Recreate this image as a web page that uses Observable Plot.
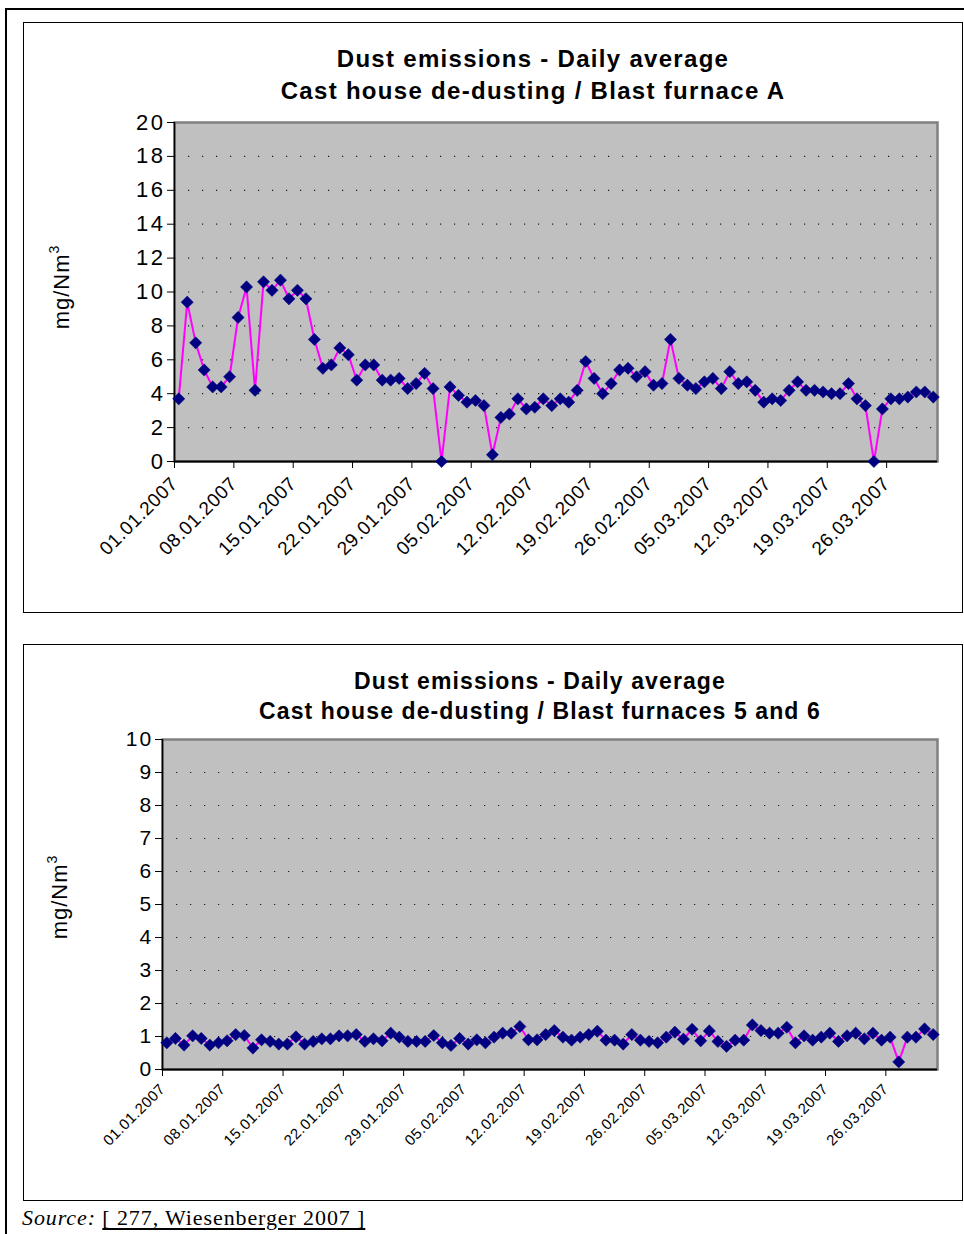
<!DOCTYPE html>
<html>
<head>
<meta charset="utf-8">
<script src="https://cdn.jsdelivr.net/npm/d3@7"></script>
<script src="https://cdn.jsdelivr.net/npm/@observablehq/plot@0.6"></script>
<style>
  html, body { margin: 0; padding: 0; background: #fff; }
  #page { position: relative; width: 964px; height: 1234px; overflow: hidden; font-family: "Liberation Sans", Arial, sans-serif; }
  .outerTop { position: absolute; left: 6px; top: 8px; width: 960px; height: 2px; background: #000; }
  .outerLeft { position: absolute; left: 5px; top: 8px; width: 2px; height: 1240px; background: #000; }
  .frame { position: absolute; border: 1.5px solid #000; box-sizing: border-box; }
  .title { position: absolute; text-align: center; font-weight: bold; color: #000; white-space: nowrap; }
  .ylab { position: absolute; transform: translate(-50%, -50%) rotate(-90deg); font-size: 22px; letter-spacing: 1px; white-space: nowrap; }
  .ylab sup { font-size: 14px; vertical-align: 10px; line-height: 0; }
  .plotwrap { position: absolute; }
  .source { position: absolute; left: 22px; top: 1205px; font-family: "Liberation Serif", "Times New Roman", serif; font-size: 22px; letter-spacing: 0.9px; white-space: nowrap; }
  .source u { text-decoration: underline; text-underline-offset: 3px; }
</style>
</head>
<body>
<div id="page">
  <div class="outerTop"></div>
  <div class="outerLeft"></div>
  <div class="frame" style="left:23px;top:22px;width:940px;height:591px;"></div>
  <div class="frame" style="left:23px;top:644px;width:940px;height:557px;"></div>
  <div class="title" style="left:233px;top:43px;width:600px;font-size:24px;line-height:32px;letter-spacing:1.3px;">Dust emissions - Daily average<br>Cast house de-dusting / Blast furnace A</div>
  <div class="title" style="left:240px;top:666px;width:600px;font-size:23px;line-height:30px;letter-spacing:1.1px;">Dust emissions - Daily average<br>Cast house de-dusting / Blast furnaces 5 and 6</div>
  <div class="ylab" style="left:62px;top:287px;">mg/Nm<sup>3</sup></div>
  <div class="ylab" style="left:60px;top:897px;">mg/Nm<sup>3</sup></div>
  <div id="chartA" class="plotwrap" style="left:23px;top:23px;"></div>
  <div id="chartB" class="plotwrap" style="left:23px;top:644px;"></div>
  <div class="source"><i>Source:</i> <u>[ 277, Wiesenberger 2007 ]</u></div>
</div>
<script>
// Daily averages, 01.01.2007 – 31.03.2007 (90 days)
const startDate = Date.UTC(2007, 0, 1);
const endDate = Date.UTC(2007, 3, 1);

const valuesA = [
  3.7, 9.4, 7.0, 5.4, 4.4, 4.4, 5.0, 8.5, 10.3, 4.2,
  10.6, 10.1, 10.7, 9.6, 10.1, 9.6, 7.2, 5.5, 5.7, 6.7,
  6.3, 4.8, 5.7, 5.7, 4.8, 4.8, 4.9, 4.3, 4.6, 5.2,
  4.3, 0.0, 4.4, 3.9, 3.5, 3.6, 3.3, 0.4, 2.6, 2.8,
  3.7, 3.1, 3.2, 3.7, 3.3, 3.7, 3.5, 4.2, 5.9, 4.9,
  4.0, 4.6, 5.4, 5.5, 5.0, 5.3, 4.5, 4.6, 7.2, 4.9,
  4.5, 4.3, 4.7, 4.9, 4.3, 5.3, 4.6, 4.7, 4.2, 3.5,
  3.7, 3.6, 4.2, 4.7, 4.2, 4.2, 4.1, 4.0, 4.0, 4.6,
  3.7, 3.3, 0.0, 3.1, 3.7, 3.7, 3.8, 4.1, 4.1, 3.8
];

const valuesB = [
  0.81, 0.94, 0.74, 1.02, 0.94, 0.74, 0.81, 0.87, 1.06, 1.03,
  0.65, 0.90, 0.85, 0.77, 0.77, 0.99, 0.77, 0.85, 0.93, 0.93,
  1.02, 1.02, 1.06, 0.85, 0.93, 0.87, 1.10, 0.98, 0.85, 0.85,
  0.85, 1.03, 0.81, 0.73, 0.94, 0.77, 0.90, 0.81, 0.98, 1.10,
  1.10, 1.30, 0.90, 0.90, 1.06, 1.18, 0.98, 0.89, 0.98, 1.06,
  1.16, 0.89, 0.89, 0.77, 1.06, 0.89, 0.85, 0.81, 0.98, 1.13,
  0.92, 1.22, 0.87, 1.17, 0.85, 0.70, 0.89, 0.89, 1.35, 1.18,
  1.10, 1.10, 1.28, 0.81, 1.02, 0.89, 0.98, 1.10, 0.85, 1.02,
  1.10, 0.93, 1.10, 0.89, 0.98, 0.23, 0.98, 0.98, 1.23, 1.06
];

const tickDates = ["2007-01-01","2007-01-08","2007-01-15","2007-01-22","2007-01-29",
  "2007-02-05","2007-02-12","2007-02-19","2007-02-26","2007-03-05","2007-03-12",
  "2007-03-19","2007-03-26"];

const yTicksA = [0, 2, 4, 6, 8, 10, 12, 14, 16, 18, 20];
const yTicksB = [0, 1, 2, 3, 4, 5, 6, 7, 8, 9, 10];

const dayCenter = i => new Date(startDate + (i + 0.5) * 86400000);
const tableA = valuesA.map((v, i) => ({date: dayCenter(i), value: v}));
const tableB = valuesB.map((v, i) => ({date: dayCenter(i), value: v}));
const xTicks = tickDates.map(s => new Date(s + "T00:00:00Z"));
const fmt = d3.utcFormat("%d.%m.%Y");

function makeChart(table, yTicks, opts) {
  const ymax = yTicks[yTicks.length - 1];
  const svg = Plot.plot({
    width: 939,
    height: opts.height,
    marginLeft: opts.marginLeft,
    marginTop: opts.marginTop,
    marginRight: 25,
    marginBottom: opts.marginBottom,
    style: {background: "transparent", fontFamily: "'Liberation Sans', Arial, sans-serif", color: "#000", overflow: "visible"},
    x: {type: "utc", domain: [new Date(startDate), new Date(endDate)]},
    y: {domain: [0, ymax]},
    marks: [
      Plot.frame({fill: "#c0c0c0", stroke: "#808080", strokeWidth: 2.5}),
      Plot.gridY(yTicks.slice(1, -1), {stroke: "#000", strokeOpacity: 0.85, strokeDasharray: "1.2,12.8", strokeWidth: 1.2}),
      Plot.ruleX([new Date(startDate)], {stroke: "#000", strokeWidth: 1.5}),
      Plot.ruleY([0], {stroke: "#000", strokeWidth: 2}),
      Plot.axisY(yTicks, {tickSize: 7, tickPadding: opts.yPad, fontSize: opts.yFont, label: null, tickFormat: d => String(d)}),
      Plot.axisX(xTicks, {tickSize: 7, tickPadding: opts.xPad, tickRotate: -45, fontSize: opts.xFont, label: null, tickFormat: fmt}),
      Plot.lineY(table, {x: "date", y: "value", stroke: "#ff00ff", strokeWidth: 2}),
      Plot.dot(table, {x: "date", y: "value", symbol: "diamond2", r: opts.r, fill: "#000080", stroke: "#000080", strokeWidth: 0.5})
    ]
  });
  d3.select(svg).selectAll('g[aria-label="y-axis tick label"] text').style("letter-spacing", opts.yLS);
  d3.select(svg).selectAll('g[aria-label="x-axis tick label"] text').style("letter-spacing", opts.xLS);
  return svg;
}

document.getElementById("chartA").append(
  makeChart(tableA, yTicksA, {height: 589, marginLeft: 151, marginTop: 99, marginBottom: 151,
    yFont: 22, yLS: "2.5px", yPad: 2, xFont: 19, xLS: "0.6px", xPad: 12, r: 5.5})
);
document.getElementById("chartB").append(
  makeChart(tableB, yTicksB, {height: 556, marginLeft: 139, marginTop: 95, marginBottom: 131,
    yFont: 21, yLS: "2.2px", yPad: 2, xFont: 15, xLS: "0.5px", xPad: 10, r: 5.5})
);
</script>
</body>
</html>
